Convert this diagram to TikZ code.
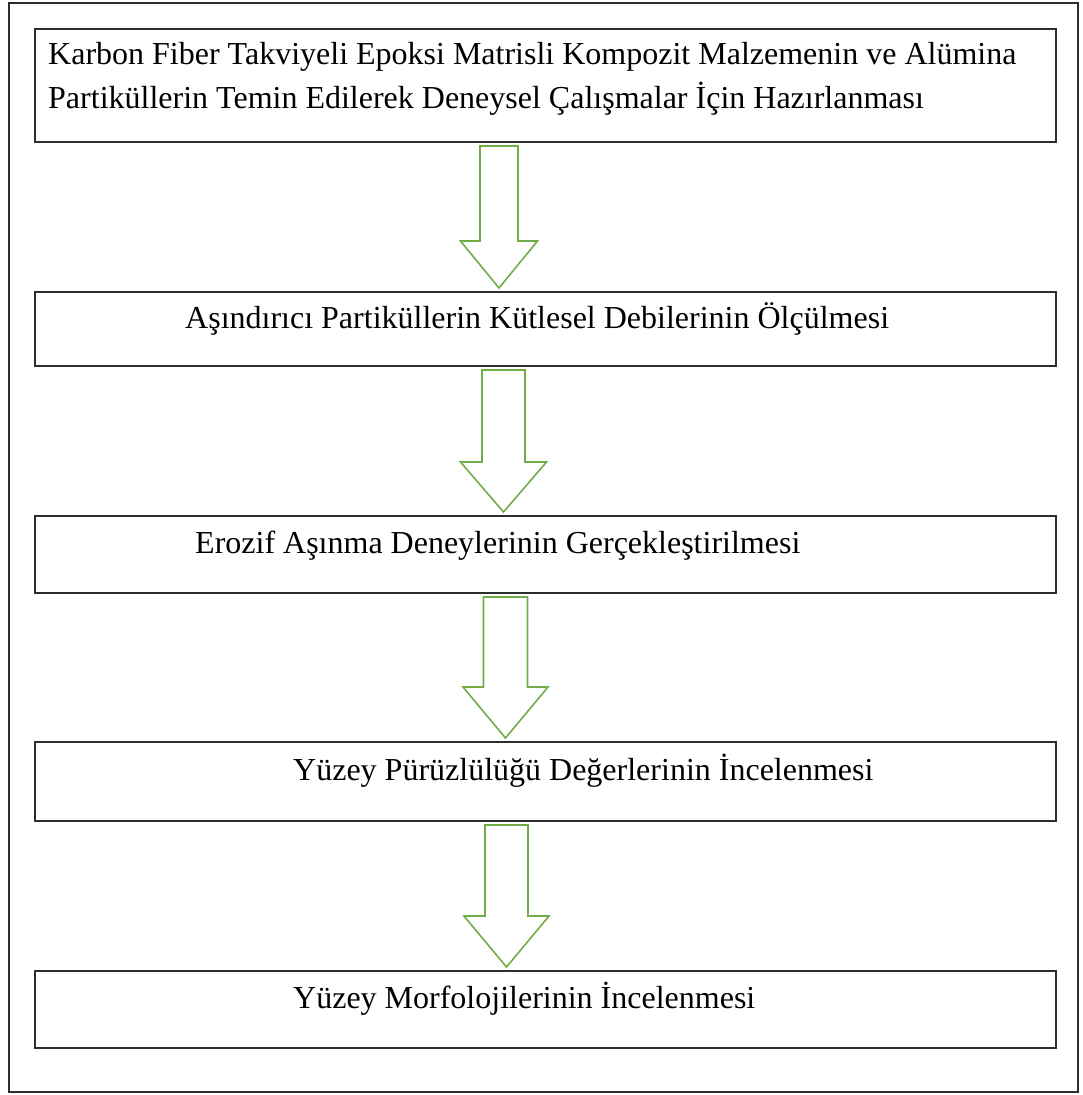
\documentclass[tikz,border=0pt]{standalone}
\usepackage{fontspec}
\setmainfont{Liberation Serif}
\usetikzlibrary{calc}
\definecolor{okyesil}{RGB}{112,173,71}
\definecolor{cizgi}{RGB}{45,45,45}

\begin{document}
\begin{tikzpicture}[x=1pt, y=-1pt, line join=miter,
        kutu/.style={draw=cizgi, line width=2pt, minimum width=1021pt, inner sep=0pt, outer sep=0pt},
        yazi/.style={inner sep=0pt, anchor=base west, text=black, font=\fontsize{32}{43.5}\selectfont},
        okstil/.style={draw=okyesil, line width=1.6pt}]
        \useasboundingbox (0,0) rectangle (1083,1095);
        % dis cerceve
        \node[draw=cizgi, line width=2pt, minimum width=1069pt, minimum height=1089pt, inner sep=0pt] (cerceve) at (543.5,547.5) {};
        % adimlar
        \node[kutu, minimum height=113pt] (k1) at (545.5,85.5) {};
        \node[kutu, minimum height=74pt] (k2) at (545.5,329) {};
        \node[kutu, minimum height=77pt] (k3) at (545.5,554.5) {};
        \node[kutu, minimum height=79pt] (k4) at (545.5,781.5) {};
        \node[kutu, minimum height=77pt] (k5) at (545.5,1009.5) {};
        % iki satirli metinde base son satirda
        \node[yazi, align=left] (t1) at ($(k1.north west)+(13,79)$) {Karbon Fiber Takviyeli Epoksi Matrisli Kompozit Malzemenin ve Alümina\\Partiküllerin Temin Edilerek Deneysel Çalışmalar İçin Hazırlanması};
        \node[yazi] (t2) at ($(k2.north west)+(150,36)$) {Aşındırıcı Partiküllerin Kütlesel Debilerinin Ölçülmesi};
        \node[yazi] (t3) at ($(k3.north west)+(160,37)$) {Erozif Aşınma Deneylerinin Gerçekleştirilmesi};
        \node[yazi] (t4) at ($(k4.north west)+(258,38)$) {Yüzey Pürüzlülüğü Değerlerinin İncelenmesi};
        \node[yazi] (t5) at ($(k5.north west)+(258,37)$) {Yüzey Morfolojilerinin İncelenmesi};
        % oklar
        \foreach \ust/\alt/\dx/\s/\h/\b in {k1/k2/-46.5/19/38.5/47, k2/k3/-42/21.5/43/50, k3/k4/-40/22/42.5/51, k4/k5/-39/21.5/42.5/51}{
            \coordinate (u) at ($(\ust.south)+(\dx,4)$);
            \coordinate (a) at ($(\alt.north)+(\dx,-4)$);
            \draw[okstil] ($(u)+(-\s,0)$) -- ($(u)+(\s,0)$) -- ($(a)+(\s,-\b)$) -- ($(a)+(\h,-\b)$) -- (a) -- ($(a)+(-\h,-\b)$) -- ($(a)+(-\s,-\b)$) -- cycle;
        }
\end{tikzpicture}
\end{document}
